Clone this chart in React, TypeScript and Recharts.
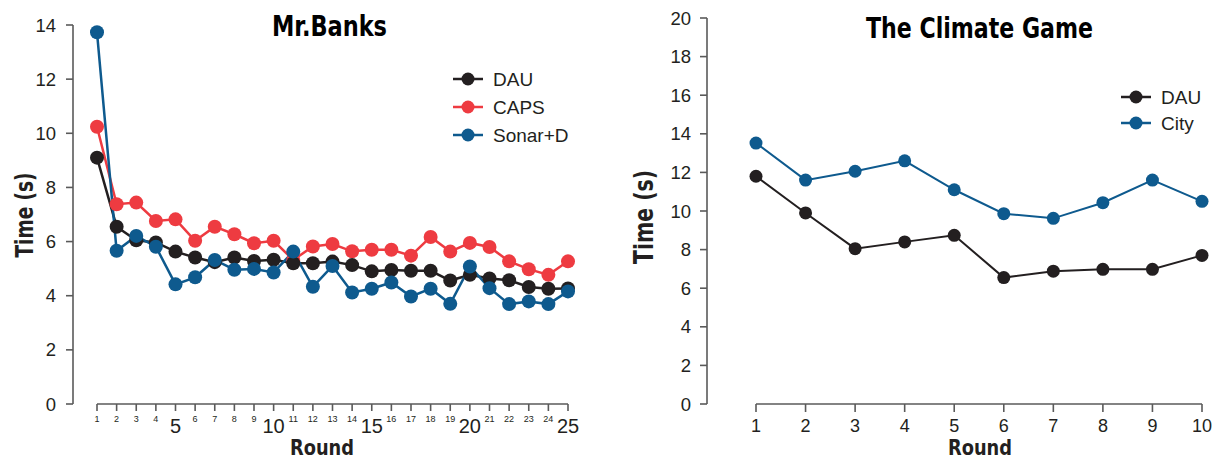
import { LineChart, Line, XAxis, YAxis, ReferenceLine } from "recharts";

// Mr.Banks: time per round (s)
const banksRounds = [1, 2, 3, 4, 5, 6, 7, 8, 9, 10, 11, 12, 13, 14, 15, 16, 17, 18, 19, 20, 21, 22, 23, 24, 25];
const banksDau = [9.1, 6.55, 6.05, 5.97, 5.63, 5.41, 5.24, 5.41, 5.28, 5.33, 5.2, 5.2, 5.26, 5.13, 4.9, 4.95, 4.92, 4.92, 4.56, 4.77, 4.64, 4.57, 4.32, 4.26, 4.27];
const banksCaps = [10.24, 7.38, 7.44, 6.76, 6.82, 6.03, 6.55, 6.27, 5.94, 6.03, 5.32, 5.82, 5.91, 5.64, 5.7, 5.7, 5.48, 6.17, 5.63, 5.95, 5.8, 5.27, 4.98, 4.77, 5.27];
const banksSonar = [13.73, 5.66, 6.21, 5.81, 4.42, 4.68, 5.32, 4.96, 4.99, 4.86, 5.63, 4.33, 5.1, 4.12, 4.26, 4.49, 3.97, 4.26, 3.7, 5.08, 4.28, 3.69, 3.79, 3.69, 4.16];
const banksYTicks = [0, 2, 4, 6, 8, 10, 12, 14];

// The Climate Game
const climateRounds = [1, 2, 3, 4, 5, 6, 7, 8, 9, 10];
const climateDau = [11.8, 9.9, 8.05, 8.4, 8.74, 6.55, 6.88, 6.98, 6.98, 7.7];
const climateCity = [13.52, 11.6, 12.06, 12.6, 11.1, 9.86, 9.62, 10.43, 11.6, 10.5];
const climateYTicks = [0, 2, 4, 6, 8, 10, 12, 14, 16, 18, 20];

const INK = "#231f20";
const RED = "#ee3b41";
const BLUE = "#0e5a8e";
const AXIS = "#5a5a5a";
const SANS = "'Liberation Sans', Arial, Helvetica, sans-serif";
const CONDENSED = "'Liberation Sans Narrow', 'DejaVu Sans Condensed', 'Liberation Sans', Arial, sans-serif";

const banksData = banksRounds.map((r, i) => ({
  round: r,
  dau: banksDau[i],
  caps: banksCaps[i],
  sonar: banksSonar[i],
}));

const climateData = climateRounds.map((r, i) => ({
  round: r,
  dau: climateDau[i],
  city: climateCity[i],
}));

// small labels for ordinary rounds, big ones every 5th
const BanksTick = (props: any) => {
  const { x, y, payload } = props;
  const big = payload.value % 5 === 0;
  return (
    <text x={x} y={y + (big ? 22 : 11)} textAnchor="middle" fontSize={big ? 20 : 9} fill={INK} fontFamily={SANS}>
      {payload.value}
    </text>
  );
};

const ClimateTick = (props: any) => {
  const { x, y, payload } = props;
  return (
    <text x={x} y={y + 20} textAnchor="middle" fontSize={18} fill={INK} fontFamily={SANS}>
      {payload.value}
    </text>
  );
};

function LegendRow({ x, y, color, label }: { x: number; y: number; color: string; label: string }) {
  return (
    <g>
      <line x1={x} x2={x + 30} y1={y} y2={y} stroke={color} strokeWidth={2.5} />
      <circle cx={x + 15} cy={y} r={6.5} fill={color} />
      <text x={x + 40} y={y + 7} fontSize={19} fill={INK} fontFamily={SANS}>
        {label}
      </text>
    </g>
  );
}

export default function App() {
  return (
    <div style={{ position: "absolute", left: 0, top: 0, width: 1213, height: 459, background: "#fff", fontFamily: SANS }}>
      <div style={{ position: "absolute", left: 0, top: 0 }}>
        <LineChart width={610} height={459} data={banksData} margin={{ top: 25, right: 42, bottom: 25, left: 0 }}>
          <XAxis
            dataKey="round"
            type="number"
            domain={[1, 25]}
            ticks={banksRounds}
            interval={0}
            padding={{ left: 24, right: 0 }}
            axisLine={false}
            tickLine={{ stroke: AXIS, strokeWidth: 1.6 }}
            tickSize={7}
            tickMargin={0}
            height={30}
            tick={<BanksTick />}
          />
          <YAxis
            type="number"
            domain={[0, 14]}
            ticks={banksYTicks}
            interval={0}
            width={73}
            axisLine={{ stroke: AXIS, strokeWidth: 1.6 }}
            tickLine={{ stroke: AXIS, strokeWidth: 1.6 }}
            tickSize={7}
            tickMargin={10}
            tick={{ fill: INK, fontSize: 18.5 }}
          />
          <ReferenceLine segment={[{ x: 1, y: 0 }, { x: 25, y: 0 }]} stroke={AXIS} strokeWidth={1.6} ifOverflow="visible" />
          <Line type="linear" dataKey="caps" stroke={RED} strokeWidth={2.5} dot={{ r: 7, fill: RED, stroke: RED, strokeWidth: 0 }} activeDot={false} isAnimationActive={false} />
          <Line type="linear" dataKey="dau" stroke={INK} strokeWidth={2.5} dot={{ r: 7, fill: INK, stroke: INK, strokeWidth: 0 }} activeDot={false} isAnimationActive={false} />
          <Line type="linear" dataKey="sonar" stroke={BLUE} strokeWidth={2.5} dot={{ r: 7, fill: BLUE, stroke: BLUE, strokeWidth: 0 }} activeDot={false} isAnimationActive={false} />
        </LineChart>
      </div>

      <div style={{ position: "absolute", left: 620, top: 0 }}>
        <LineChart width={593} height={459} data={climateData} margin={{ top: 18, right: 11, bottom: 25, left: 0 }}>
          <XAxis
            dataKey="round"
            type="number"
            domain={[1, 10]}
            ticks={climateRounds}
            interval={0}
            padding={{ left: 49, right: 0 }}
            axisLine={false}
            tickLine={{ stroke: AXIS, strokeWidth: 1.6 }}
            tickSize={8}
            tickMargin={0}
            height={30}
            tick={<ClimateTick />}
          />
          <YAxis
            type="number"
            domain={[0, 20]}
            ticks={climateYTicks}
            interval={0}
            width={87}
            axisLine={{ stroke: AXIS, strokeWidth: 1.6 }}
            tickLine={{ stroke: AXIS, strokeWidth: 1.6 }}
            tickSize={7}
            tickMargin={9}
            tick={{ fill: INK, fontSize: 18.5 }}
          />
          <ReferenceLine segment={[{ x: 1, y: 0 }, { x: 10, y: 0 }]} stroke={AXIS} strokeWidth={1.6} ifOverflow="visible" />
          <Line type="linear" dataKey="city" stroke={BLUE} strokeWidth={2} dot={{ r: 6.5, fill: BLUE, stroke: BLUE, strokeWidth: 0 }} activeDot={false} isAnimationActive={false} />
          <Line type="linear" dataKey="dau" stroke={INK} strokeWidth={2} dot={{ r: 6.5, fill: INK, stroke: INK, strokeWidth: 0 }} activeDot={false} isAnimationActive={false} />
        </LineChart>
      </div>

      {/* titles, axis titles and legends */}
      <svg width={1213} height={459} style={{ position: "absolute", left: 0, top: 0, pointerEvents: "none" }}>
        <text x={272} y={36} fontSize={29} fontWeight="bold" fill="#000" fontFamily={CONDENSED} textLength={115} lengthAdjust="spacingAndGlyphs">
          Mr.Banks
        </text>
        <text x={866} y={38} fontSize={29} fontWeight="bold" fill="#000" fontFamily={CONDENSED} textLength={227} lengthAdjust="spacingAndGlyphs">
          The Climate Game
        </text>

        <text x={290} y={455} fontSize={22} fontWeight="bold" fill={INK} fontFamily={CONDENSED} textLength={64} lengthAdjust="spacingAndGlyphs">
          Round
        </text>
        <text x={948} y={455} fontSize={22} fontWeight="bold" fill={INK} fontFamily={CONDENSED} textLength={64} lengthAdjust="spacingAndGlyphs">
          Round
        </text>

        <g transform="translate(33,215) rotate(-90)">
          <text x={-42.5} y={0} fontSize={24} fontWeight="bold" fill={INK} fontFamily={CONDENSED} textLength={85} lengthAdjust="spacingAndGlyphs">
            Time (s)
          </text>
        </g>
        <g transform="translate(653,217) rotate(-90)">
          <text x={-47} y={0} fontSize={26} fontWeight="bold" fill={INK} fontFamily={CONDENSED} textLength={94} lengthAdjust="spacingAndGlyphs">
            Time (s)
          </text>
        </g>

        <LegendRow x={453} y={79} color={INK} label="DAU" />
        <LegendRow x={453} y={107} color={RED} label="CAPS" />
        <LegendRow x={453} y={135} color={BLUE} label="Sonar+D" />

        <LegendRow x={1121} y={97} color={INK} label="DAU" />
        <LegendRow x={1121} y={123} color={BLUE} label="City" />
      </svg>
    </div>
  );
}
